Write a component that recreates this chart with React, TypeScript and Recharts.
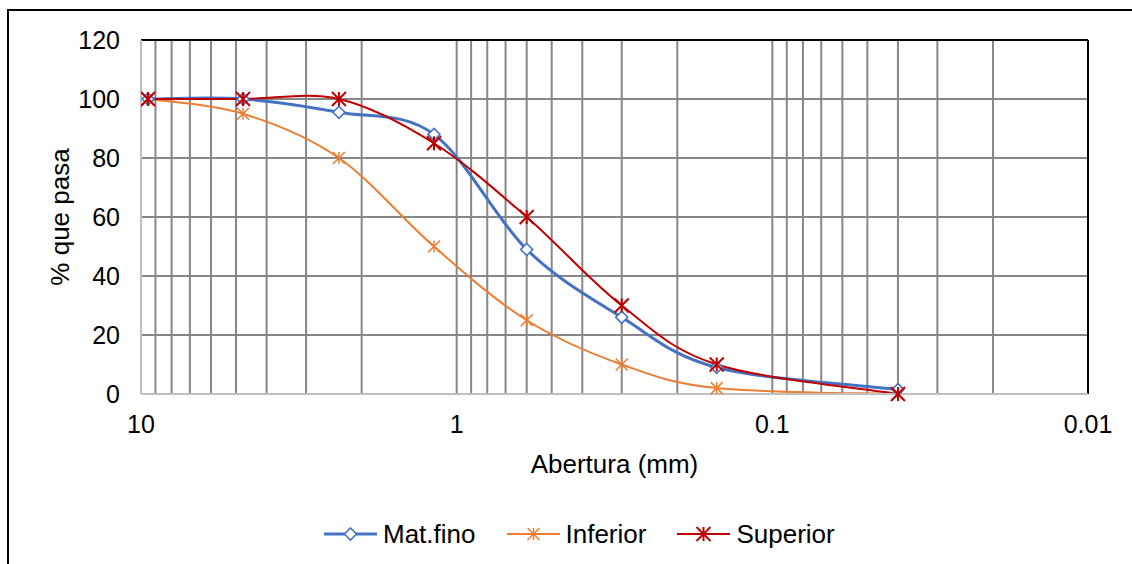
// Curva granulométrica: % que pasa vs abertura (eje X logarítmico invertido)
import {
  CartesianGrid,
  Label,
  Legend,
  Line,
  LineChart,
  ReferenceLine,
  XAxis,
  YAxis,
} from 'recharts'

// aberturas de tamiz (mm)
const sizes = [9.5, 4.75, 2.36, 1.18, 0.6, 0.3, 0.15, 0.04]
// % que pasa por serie
const matFino = [100, 100, 95.5, 88, 49, 26, 9, 1.5]
const inferior = [100, 95, 80, 50, 25, 10, 2, 0]
const superior = [100, 100, 100, 85, 60, 30, 10, 0]

const xTicks = [10, 1, 0.1, 0.01]
const yTicks = [0, 20, 40, 60, 80, 100, 120]
// líneas de la cuadrícula logarítmica (mayores y menores)
const gridX = [
  10, 9, 8, 7, 6, 5, 4, 3, 2,
  1, 0.9, 0.8, 0.7, 0.6, 0.5, 0.4, 0.3, 0.2,
  0.1, 0.09, 0.08, 0.07, 0.06, 0.05, 0.04, 0.03, 0.02,
]

const BLUE = '#4472C4'
const ORANGE = '#ED7D31'
const RED = '#C00000'
const GRID = '#878787'
const FONT = '"Liberation Sans", Arial, sans-serif'

const rows = sizes.map((x, i) => ({
  x,
  fino: matFino[i],
  inf: inferior[i],
  sup: superior[i],
}))

// suavizado tipo Excel (Bezier con tangentes Catmull-Rom)
function excelSmooth(context: any) {
  let pts: number[][] = []
  return {
    areaStart() {},
    areaEnd() {},
    lineStart() {
      pts = []
    },
    point(x: number, y: number) {
      pts.push([+x, +y])
    },
    lineEnd() {
      const n = pts.length
      if (!n) return
      context.moveTo(pts[0][0], pts[0][1])
      for (let i = 0; i < n - 1; i++) {
        const p0 = pts[Math.max(i - 1, 0)]
        const p1 = pts[i]
        const p2 = pts[i + 1]
        const p3 = pts[Math.min(i + 2, n - 1)]
        context.bezierCurveTo(
          p1[0] + (p2[0] - p0[0]) / 6,
          p1[1] + (p2[1] - p0[1]) / 6,
          p2[0] - (p3[0] - p1[0]) / 6,
          p2[1] - (p3[1] - p1[1]) / 6,
          p2[0],
          p2[1],
        )
      }
    },
  }
}

function Diamond({ cx, cy, r = 6 }: { cx: number; cy: number; r?: number }) {
  return (
    <polygon
      points={`${cx},${cy - r} ${cx + r},${cy} ${cx},${cy + r} ${cx - r},${cy}`}
      fill="#fff"
      stroke={BLUE}
      strokeWidth={1.6}
    />
  )
}

function Star({ cx, cy, r, color, w }: { cx: number; cy: number; r: number; color: string; w: number }) {
  return (
    <g stroke={color} strokeWidth={w}>
      <line x1={cx - r} y1={cy - r} x2={cx + r} y2={cy + r} />
      <line x1={cx - r} y1={cy + r} x2={cx + r} y2={cy - r} />
      <line x1={cx} y1={cy - r} x2={cx} y2={cy + r} />
    </g>
  )
}

const finoDot = (p: any) =>
  p.cx == null ? <g key={`f${p.index}`} /> : <Diamond key={`f${p.index}`} cx={p.cx} cy={p.cy} />
const infDot = (p: any) =>
  p.cx == null ? <g key={`i${p.index}`} /> : <Star key={`i${p.index}`} cx={p.cx} cy={p.cy} r={6} color={ORANGE} w={1.5} />
const supDot = (p: any) =>
  p.cx == null ? <g key={`s${p.index}`} /> : <Star key={`s${p.index}`} cx={p.cx} cy={p.cy} r={7} color={RED} w={2} />

const legendItems = [
  { name: 'Mat.fino', color: BLUE, width: 3, marker: (cx: number, cy: number) => <Diamond cx={cx} cy={cy} /> },
  { name: 'Inferior', color: ORANGE, width: 2, marker: (cx: number, cy: number) => <Star cx={cx} cy={cy} r={6} color={ORANGE} w={1.5} /> },
  { name: 'Superior', color: RED, width: 2, marker: (cx: number, cy: number) => <Star cx={cx} cy={cy} r={7} color={RED} w={2} /> },
]

function LegendBox() {
  return (
    <div style={{ display: 'flex', alignItems: 'center', gap: 31, fontFamily: FONT, fontSize: 26, color: '#000' }}>
      {legendItems.map((it) => (
        <div key={it.name} style={{ display: 'flex', alignItems: 'center' }}>
          <svg width={53} height={24} style={{ display: 'block' }}>
            <line x1={0} y1={12} x2={53} y2={12} stroke={it.color} strokeWidth={it.width} />
            {it.marker(26.5, 12)}
          </svg>
          <span style={{ marginLeft: 6, lineHeight: '30px' }}>{it.name}</span>
        </div>
      ))}
    </div>
  )
}

export default function App() {
  return (
    <div
      style={{
        position: 'absolute',
        left: 0,
        top: 0,
        width: 1132,
        height: 564,
        overflow: 'hidden',
        background: '#fff',
        fontFamily: FONT,
      }}
    >
      <div
        style={{
          position: 'absolute',
          left: 7,
          top: 9,
          width: 1200,
          height: 700,
          border: '2px solid #000',
        }}
      />
      <div style={{ position: 'absolute', left: 0, top: 0 }}>
        <LineChart width={1132} height={564} data={rows} margin={{ top: 40, right: 44, bottom: 130, left: 81 }}>
          <CartesianGrid
            stroke={GRID}
            strokeWidth={2}
            verticalValues={gridX}
            horizontalValues={yTicks}
          />
          <XAxis
            dataKey="x"
            type="number"
            scale="log"
            domain={[0.01, 10]}
            allowDataOverflow
            reversed
            ticks={xTicks}
            interval={0}
            tickFormatter={(v: number) => String(v)}
            height={40}
            tickLine={false}
            tickSize={0}
            tickMargin={21}
            axisLine={{ stroke: '#BFBFBF', strokeWidth: 2 }}
            tick={{ fontSize: 25, fill: '#000', fontFamily: FONT }}
          >
            <Label value="Abertura (mm)" position="bottom" offset={21} style={{ fontSize: 26, fill: '#000', fontFamily: FONT }} />
          </XAxis>
          <YAxis
            type="number"
            domain={[0, 120]}
            ticks={yTicks}
            interval={0}
            width={60}
            tickLine={false}
            tickSize={0}
            tickMargin={21}
            axisLine={{ stroke: '#BFBFBF', strokeWidth: 2 }}
            tick={{ fontSize: 25, fill: '#000', fontFamily: FONT }}
          >
            <Label
              content={(props: any) => {
                const vb = props.viewBox || { x: 81, y: 40, height: 354 }
                const cx = vb.x - 21
                const cy = vb.y + vb.height / 2
                return (
                  <text
                    x={cx}
                    y={cy}
                    transform={`rotate(-90, ${cx}, ${cy})`}
                    textAnchor="middle"
                    dominantBaseline="central"
                    fontSize={26}
                    fill="#000"
                    fontFamily={FONT}
                  >
                    % que pasa
                  </text>
                )
              }}
            />
          </YAxis>
          <ReferenceLine y={120} stroke="#000" strokeWidth={2} />
          <ReferenceLine x={0.01} stroke="#000" strokeWidth={2} />
          <Legend
            layout="horizontal"
            verticalAlign="middle"
            align="center"
            wrapperStyle={{ top: 519, left: 324, width: 700 }}
            content={() => <LegendBox />}
          />
          <Line
            dataKey="fino"
            name="Mat.fino"
            type={excelSmooth as any}
            stroke={BLUE}
            strokeWidth={3}
            dot={finoDot}
            activeDot={false}
            isAnimationActive={false}
          />
          <Line
            dataKey="inf"
            name="Inferior"
            type={excelSmooth as any}
            stroke={ORANGE}
            strokeWidth={2}
            dot={infDot}
            activeDot={false}
            isAnimationActive={false}
          />
          <Line
            dataKey="sup"
            name="Superior"
            type={excelSmooth as any}
            stroke={RED}
            strokeWidth={2}
            dot={supDot}
            activeDot={false}
            isAnimationActive={false}
          />
        </LineChart>
      </div>
    </div>
  )
}
